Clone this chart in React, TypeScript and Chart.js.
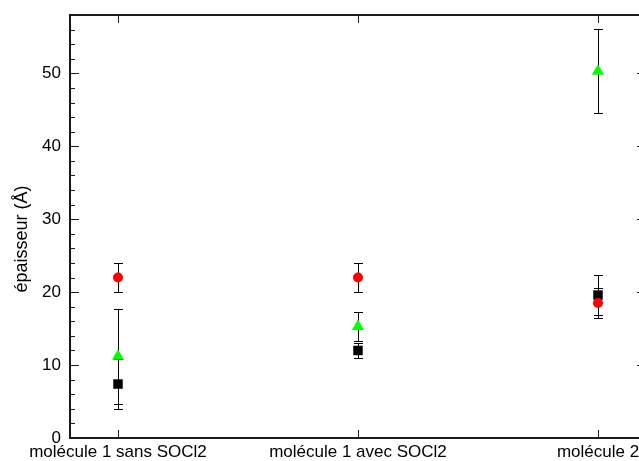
import React, { useEffect, useRef } from "react";
import { Chart, registerables } from "chart.js";

Chart.register(...registerables);

// ---- data ----
const categories = ["molécule 1 sans SOCl2", "molécule 1 avec SOCl2", "molécule 2"];
const xPositions = [1, 2, 3];

const blackValues = [7.4, 12.0, 19.6];
const blackErrors = [3.4, 1.0, 2.8];

const redValues = [22.0, 22.0, 18.5];
const redErrors = [2.0, 2.0, 2.0];

const greenValues = [11.2, 15.3, 50.3];
const greenErrors = [6.5, 2.0, 5.75];

const yTickValues = [0, 10, 20, 30, 40, 50];
const yMinorStep = 2;
const yMin = 0;
const yMax = 58;
const xMin = 0.8;
const xMax = 3.2;
const yTitle = "épaisseur (Å)";

const FONT = "'Liberation Sans', Arial, sans-serif";

export default function App() {
  const ref = useRef<HTMLCanvasElement>(null);

  useEffect(() => {
    const canvas = ref.current;
    if (!canvas) return;

    const errorBars = {
      id: "errorBars",
      beforeDatasetsDraw(chart: any) {
        const { ctx } = chart;
        const x = chart.scales.x;
        const y = chart.scales.y;
        ctx.save();
        ctx.strokeStyle = "#000";
        ctx.lineWidth = 1;
        chart.data.datasets.forEach((ds: any) => {
          const errs: number[] = ds.errors || [];
          ds.data.forEach((pt: any, i: number) => {
            const e = errs[i] || 0;
            const px = Math.round(x.getPixelForValue(pt.x)) + 0.5;
            const yTop = Math.round(y.getPixelForValue(pt.y + e)) + 0.5;
            const yBot = Math.round(y.getPixelForValue(pt.y - e)) + 0.5;
            ctx.beginPath();
            ctx.moveTo(px, yTop);
            ctx.lineTo(px, yBot);
            ctx.moveTo(px - 4.5, yTop);
            ctx.lineTo(px + 4.5, yTop);
            ctx.moveTo(px - 4.5, yBot);
            ctx.lineTo(px + 4.5, yBot);
            ctx.stroke();
          });
        });
        ctx.restore();
      },
    };

    const frame = {
      id: "frame",
      afterDraw(chart: any) {
        const { ctx, chartArea } = chart;
        const { left, right, top, bottom } = chartArea;
        const x = chart.scales.x;
        const y = chart.scales.y;
        ctx.save();
        ctx.strokeStyle = "#1a1a1a";
        ctx.lineWidth = 1;
        ctx.beginPath();
        // y ticks (major + minor) on left and right, pointing inward
        for (let v = yMin; v <= yMax + 1e-9; v += yMinorStep) {
          const py = Math.round(y.getPixelForValue(v)) + 0.5;
          const major = yTickValues.includes(v);
          const len = major ? 9 : 5;
          ctx.moveTo(left, py);
          ctx.lineTo(left + len, py);
          ctx.moveTo(right, py);
          ctx.lineTo(right - len, py);
        }
        // x ticks at categories, top and bottom, inward
        xPositions.forEach((v) => {
          const px = Math.round(x.getPixelForValue(v)) + 0.5;
          ctx.moveTo(px, bottom);
          ctx.lineTo(px, bottom - 8);
          ctx.moveTo(px, top);
          ctx.lineTo(px, top + 8);
        });
        ctx.stroke();
        // frame
        ctx.lineWidth = 2;
        ctx.strokeRect(left, top, right - left, bottom - top);
        // y title
        ctx.fillStyle = "#000";
        ctx.font = `18px ${FONT}`;
        ctx.textAlign = "center";
        ctx.textBaseline = "middle";
        ctx.translate(22, 239);
        ctx.rotate(-Math.PI / 2);
        ctx.fillText(yTitle, 0, 0);
        ctx.restore();
      },
    };

    const chart = new Chart(canvas, {
      type: "scatter",
      data: {
        datasets: [
          {
            label: "red",
            data: xPositions.map((xv, i) => ({ x: xv, y: redValues[i] })),
            errors: redErrors,
            pointStyle: "circle",
            pointRadius: 5,
            backgroundColor: "#ff0000",
            borderColor: "#ff0000",
            borderWidth: 0,
          } as any,
          {
            label: "green",
            data: xPositions.map((xv, i) => ({ x: xv, y: greenValues[i] })),
            errors: greenErrors,
            pointStyle: "triangle",
            pointRadius: 7,
            backgroundColor: "#00ff00",
            borderColor: "#00ff00",
            borderWidth: 0,
          } as any,
          {
            label: "black",
            data: xPositions.map((xv, i) => ({ x: xv, y: blackValues[i] })),
            errors: blackErrors,
            pointStyle: "rect",
            pointRadius: 6.7,
            backgroundColor: "#000000",
            borderColor: "#000000",
            borderWidth: 0,
          } as any,
        ],
      },
      options: {
        responsive: false,
        animation: false,
        devicePixelRatio: 1,
        layout: { padding: { top: 15, right: 14, left: 0, bottom: 0 } },
        plugins: {
          legend: { display: false },
          tooltip: { enabled: false },
        },
        scales: {
          x: {
            type: "linear",
            min: xMin,
            max: xMax,
            grid: { display: false, drawTicks: false },
            border: { display: false },
            afterBuildTicks: (scale: any) => {
              scale.ticks = xPositions.map((v) => ({ value: v }));
            },
            afterFit: (scale: any) => {
              scale.height = 23;
              scale.paddingLeft = 0;
              scale.paddingRight = 0;
            },
            ticks: {
              autoSkip: false,
              maxRotation: 0,
              minRotation: 0,
              padding: 4,
              color: "#000",
              font: { family: FONT, size: 17 },
              callback: (value: any) => {
                const idx = xPositions.indexOf(Number(value));
                return idx >= 0 ? categories[idx] : "";
              },
            },
          },
          y: {
            type: "linear",
            min: yMin,
            max: yMax,
            grid: { display: false, drawTicks: false },
            border: { display: false },
            afterBuildTicks: (scale: any) => {
              scale.ticks = yTickValues.map((v) => ({ value: v }));
            },
            afterFit: (scale: any) => {
              scale.width = 70;
              scale.paddingTop = 0;
              scale.paddingBottom = 0;
            },
            ticks: {
              padding: 9,
              color: "#000",
              font: { family: FONT, size: 17 },
            },
          },
        },
      } as any,
      plugins: [errorBars, frame],
    });

    return () => chart.destroy();
  }, []);

  return (
    <div
      style={{
        position: "fixed",
        left: 0,
        top: 0,
        width: 639,
        height: 461,
        overflow: "hidden",
        background: "#fff",
      }}
    >
      <canvas ref={ref} width={660} height={461} style={{ width: 660, height: 461, display: "block" }} />
    </div>
  );
}
